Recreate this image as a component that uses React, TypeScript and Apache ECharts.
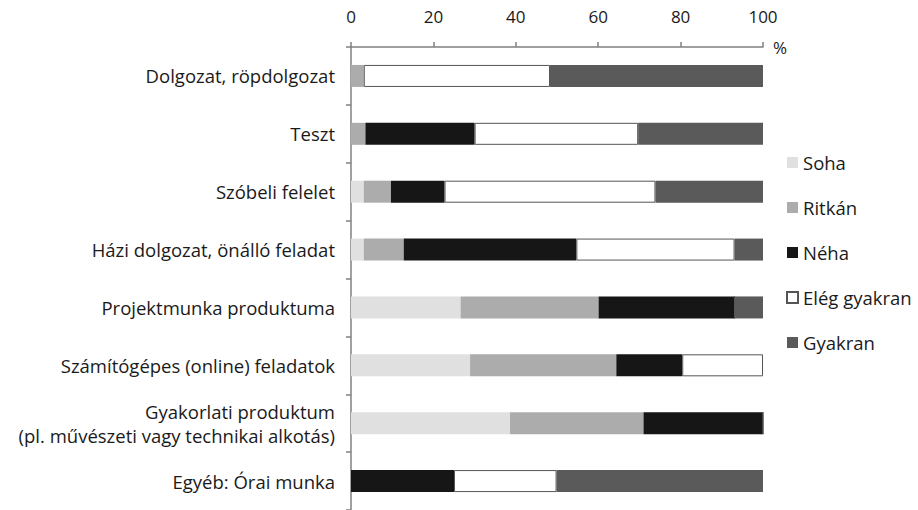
import React, { useEffect, useRef } from "react";
import * as echarts from "echarts";

const categories = [
  "Dolgozat, röpdolgozat",
  "Teszt",
  "Szóbeli felelet",
  "Házi dolgozat, önálló feladat",
  "Projektmunka produktuma",
  "Számítógépes (online) feladatok",
  "Gyakorlati produktum\n(pl. művészeti vagy technikai alkotás)",
  "Egyéb: Órai munka",
];

const soha = [0, 0, 3.1, 3.1, 26.6, 28.9, 38.6, 0];
const ritkan = [3.1, 3.5, 6.6, 9.7, 33.5, 35.5, 32.4, 0];
const neha = [0, 26.5, 13.0, 41.9, 33.0, 16.0, 29.0, 25.0];
const elegGyakran = [45.2, 39.7, 51.2, 38.4, 0, 19.6, 0, 24.9];
const gyakran = [51.7, 30.3, 26.1, 6.9, 6.9, 0, 0, 50.1];

const xTicks = { min: 0, max: 100, interval: 20 };

const FONT = "Open Sans";

export default function App() {
  const ref = useRef<HTMLDivElement>(null);
  useEffect(() => {
    if (!ref.current) return;
    const chart = echarts.init(ref.current, null, { renderer: "svg" });
    const mk = (name: string, data: number[], color: string, border?: string) => ({
      name,
      type: "bar",
      stack: "total",
      data,
      barWidth: 22,
      itemStyle: border
        ? { color, borderColor: border, borderWidth: 1 }
        : { color },
      emphasis: { disabled: true },
    });
    const catData = categories.map((c) =>
      c.includes("\n") ? { value: c, textStyle: { padding: [0, 0, 10, 0] } } : c
    );
    chart.setOption({
      animation: false,
      backgroundColor: "#ffffff",
      textStyle: { fontFamily: FONT },
      grid: { left: 351, top: 47, width: 412, height: 467, containLabel: false },
      legend: {
        orient: "vertical",
        left: 786,
        top: 153,
        padding: 0,
        itemWidth: 11,
        itemHeight: 11,
        itemGap: 26,
        icon: "rect",
        selectedMode: false,
        textStyle: { fontSize: 18.5, color: "#1a1a1a", fontFamily: FONT },
        data: ["Soha", "Ritkán", "Néha", "Elég gyakran", "Gyakran"],
      },
      xAxis: {
        type: "value",
        position: "top",
        min: xTicks.min,
        max: xTicks.max,
        interval: xTicks.interval,
        name: "%",
        nameLocation: "end",
        nameGap: 10,
        nameTextStyle: { fontSize: 17, color: "#1a1a1a", fontFamily: FONT, verticalAlign: "middle", padding: [0, 0, -8, 0] },
        axisLine: { show: true, lineStyle: { color: "#808080", width: 1.5 } },
        axisTick: { show: true, length: 5, lineStyle: { color: "#808080", width: 1.5 } },
        axisLabel: { fontSize: 17, color: "#1a1a1a", fontFamily: FONT, margin: 22 },
        splitLine: { show: false },
      },
      yAxis: {
        type: "category",
        inverse: true,
        data: catData,
        axisLine: { show: true, lineStyle: { color: "#808080", width: 1.5 } },
        axisTick: { show: true, length: 5, lineStyle: { color: "#808080", width: 1.5 } },
        axisLabel: { fontSize: 18.5, color: "#1a1a1a", fontFamily: FONT, margin: 16, lineHeight: 24, align: "right" },
      },
      series: [
        mk("Soha", soha, "#e0e0e0"),
        mk("Ritkán", ritkan, "#acacac"),
        mk("Néha", neha, "#161616"),
        mk("Elég gyakran", elegGyakran, "#ffffff", "#555555"),
        mk("Gyakran", gyakran, "#5a5a5a"),
      ],
    });
    return () => chart.dispose();
  }, []);
  return <div ref={ref} style={{ width: 918, height: 510, position: "absolute", left: 0, top: 0 }} />;
}
